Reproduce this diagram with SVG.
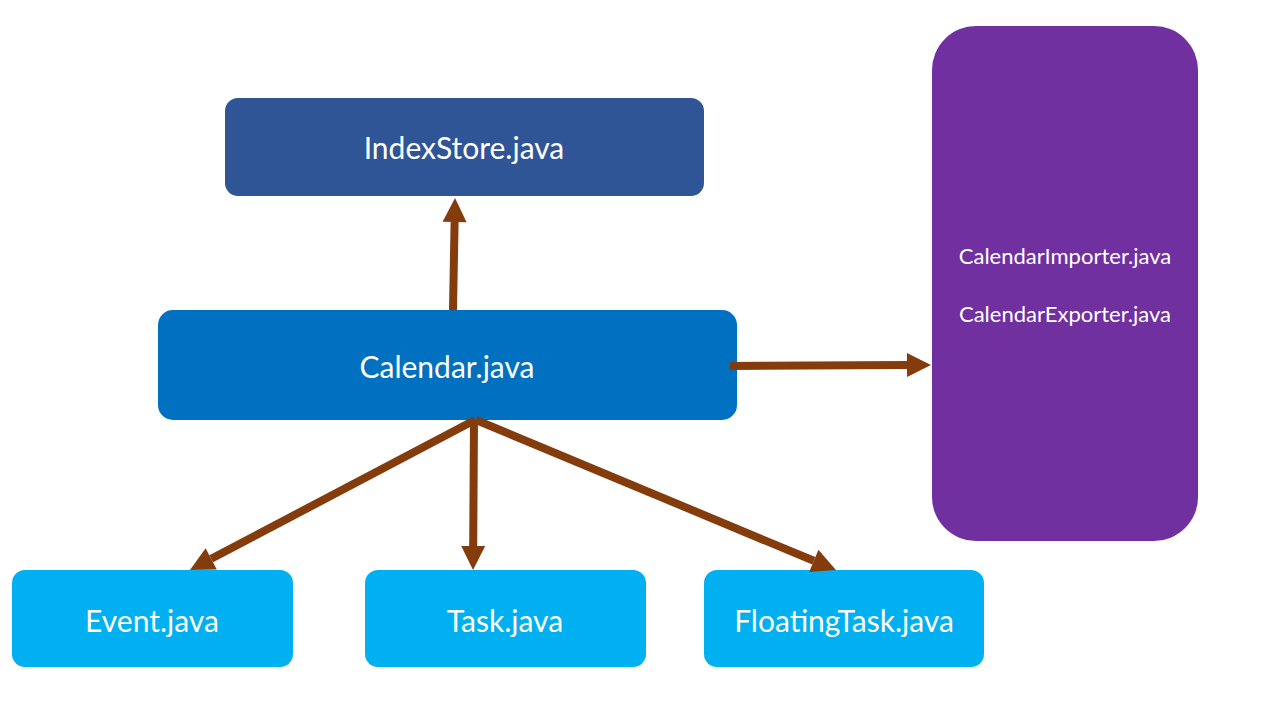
<svg xmlns="http://www.w3.org/2000/svg" width="1280" height="720" viewBox="0 0 1280 720">
  <style>
    .lbl { font-family: "Lato", "Open Sans", "Liberation Sans", sans-serif; fill: #ffffff; text-anchor: middle; dominant-baseline: central; }
    .big { font-size: 30px; }
    .small { font-size: 22px; }
    .edge { stroke: #843C0C; stroke-width: 8; fill: none; }
  </style>
  <defs>
    <!-- arrowhead starts where the shaft stops, tip 24px beyond -->
    <marker id="head" markerUnits="userSpaceOnUse" markerWidth="26" markerHeight="26" refX="0" refY="12" orient="auto" overflow="visible">
      <path d="M0,0 L24,12 L0,24 Z" fill="#843C0C"/>
    </marker>
  </defs>
  <rect width="1280" height="720" fill="#ffffff"/>

  <g id="indexstore">
    <rect x="225" y="98" width="479" height="98" rx="13" fill="#2F5597"/>
    <text class="lbl big" x="464" y="147">IndexStore.java</text>
  </g>

  <g id="calendar">
    <rect x="158" y="310" width="579" height="110" rx="15" fill="#0070C0"/>
    <text class="lbl big" x="447" y="366">Calendar.java</text>
  </g>

  <g id="io">
    <rect x="932" y="26" width="266" height="515" rx="44" fill="#7030A0"/>
    <text class="lbl small" x="1065" y="255">CalendarImporter.java</text>
    <text class="lbl small" x="1065" y="313">CalendarExporter.java</text>
  </g>

  <g id="event">
    <rect x="12" y="570" width="281" height="97" rx="13" fill="#00B0F0"/>
    <text class="lbl big" x="152" y="620">Event.java</text>
  </g>

  <g id="task">
    <rect x="365" y="570" width="281" height="97" rx="13" fill="#00B0F0"/>
    <text class="lbl big" x="505" y="620">Task.java</text>
  </g>

  <g id="floatingtask">
    <rect x="704" y="570" width="280" height="97" rx="13" fill="#00B0F0"/>
    <text class="lbl big" x="844" y="620">FloatingTask.java</text>
  </g>

  <g id="connectors">
    <line class="edge" x1="453" y1="310" x2="454.6" y2="222" marker-end="url(#head)"/>
    <line class="edge" x1="730" y1="366" x2="907" y2="365.1" marker-end="url(#head)"/>
    <line class="edge" x1="475" y1="420" x2="211.2" y2="558.8" marker-end="url(#head)"/>
    <line class="edge" x1="474" y1="420" x2="473.2" y2="546" marker-end="url(#head)"/>
    <line class="edge" x1="476" y1="420" x2="813.8" y2="560.8" marker-end="url(#head)"/>
  </g>
</svg>
